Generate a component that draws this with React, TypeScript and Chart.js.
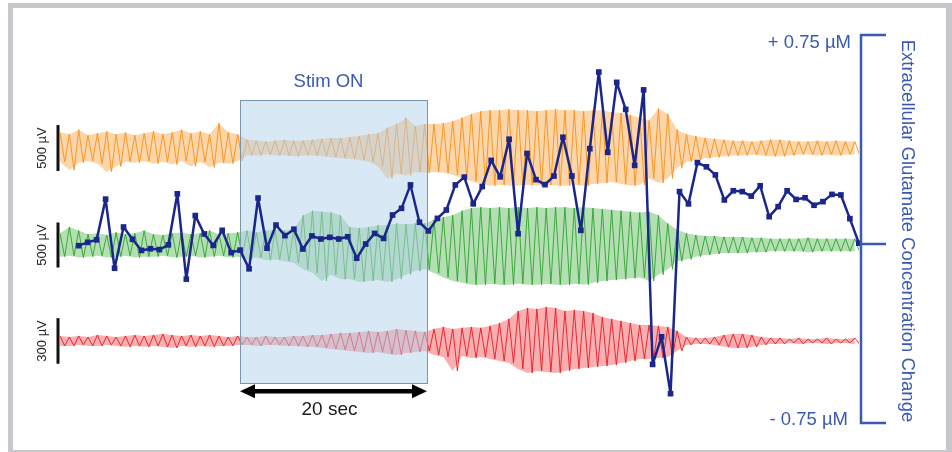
import React, { useEffect, useRef } from "react";
import { Chart, registerables } from "chart.js";

Chart.register(...registerables);

// ---- time base (seconds) ----
const CONC_DT = 0.959; // glutamate sampling interval
const TRACE_DT = 1.0; // envelope sampling interval for field traces
const TRACE_T0 = -2;
const X_MIN = -2;
const X_MAX = 83.45;
const STIM_START = 17.25;
const STIM_END = 37.25;
const STIM_TOP_UM = 0.517;
const STIM_BOTTOM_UM = -0.5;

// ---- glutamate concentration change (µM) ----
const concUM = [
  -0.006, 0.006, 0.015, 0.161, -0.087, 0.061, 0.017, -0.023, -0.017, -0.02,
  -0.003, 0.18, -0.126, 0.102, 0.036, -0.005, 0.049, -0.031, -0.022, -0.089,
  0.165, -0.015, 0.068, 0.03, 0.053, -0.018, 0.029, 0.018, 0.024, 0.018,
  0.026, -0.051, 0.0, 0.038, 0.02, 0.104, 0.128, 0.212, 0.078, 0.047,
  0.092, 0.122, 0.212, 0.24, 0.144, 0.206, 0.3, 0.241, 0.376, 0.037,
  0.325, 0.231, 0.213, 0.244, 0.383, 0.244, 0.049, 0.342, 0.617, 0.329,
  0.58, 0.483, 0.282, 0.553, -0.432, -0.333, -0.537, 0.188, 0.144, 0.292,
  0.277, 0.248, 0.158, 0.191, 0.188, 0.172, 0.209, 0.098, 0.134, 0.191,
  0.16, 0.166, 0.139, 0.152, 0.178, 0.176, 0.091, 0.003,
];

// ---- field potential envelopes (µV): peak above / trough depth below baseline ----
const orangePeakUV = [
  170, 150, 200, 140, 160, 180, 150, 170, 140, 160, 180, 150, 170, 200, 160, 180, 150, 270, 170, 150,
  90, 80, 70, 80, 90, 80, 80, 90, 100, 110,
  110, 120, 130, 150, 160,
  220, 260, 330, 240, 260,
  260, 270, 290, 330,
  370, 400, 410, 410, 420, 410, 410, 400, 410, 420, 410, 410, 400, 410, 410, 390, 380, 360, 330,
  300, 430, 370, 200, 150,
  130, 110, 100, 90, 80,
  80, 70, 80, 90, 90, 80, 70, 70, 80, 70, 80, 70, 70,
];
const orangeTroughUV = [
  150, 240, 160, 140, 170, 260, 200, 150, 160, 140, 170, 150, 180, 140, 200, 150, 210, 160, 170, 140,
  80, 80, 70, 80, 80, 90, 80, 80, 90, 100,
  110, 120, 130, 150, 200,
  330, 280, 300, 260, 270,
  260, 270, 290, 330,
  360, 390, 410, 400, 410, 410, 400, 410, 400, 410, 410, 400, 410, 390, 380, 370, 390, 410, 400,
  330, 380, 330, 220, 150,
  130, 110, 100, 90, 80,
  80, 70, 80, 90, 90, 80, 70, 70, 80, 70, 80, 70, 70,
];
const greenPeakUV = [
  130, 200, 160, 120, 130, 110, 140, 120, 130, 160, 120, 110, 130, 140, 120, 130, 160, 120, 130, 140,
  160, 140, 160, 170, 160, 180,
  330, 380, 370, 360, 330,
  200, 190, 200, 220, 220, 240, 230, 240,
  240, 280, 310, 330, 380,
  410, 420, 410, 420, 410, 420, 410, 420, 410, 420, 420, 410, 420, 410, 400, 390, 380, 370,
  360, 370, 330, 240, 170,
  130, 110, 100, 100, 90,
  90, 90, 80, 80, 70, 70, 70, 70, 80, 70, 70, 70, 70, 70,
];
const greenTroughUV = [
  130, 120, 140, 130, 120, 140, 130, 120, 140, 130, 130, 120, 140, 130, 120, 140, 130, 120, 140, 130,
  160, 140, 170, 160, 180, 200,
  270, 310, 400, 330, 380,
  380, 410, 400, 390, 410, 380, 330, 290,
  270, 310, 360, 400, 420,
  440, 440, 430, 440, 440, 430, 440, 440, 430, 440, 440, 430, 440, 420, 400, 390, 380, 370,
  360, 400, 330, 270, 180,
  160, 130, 110, 100, 90,
  90, 90, 80, 80, 70, 70, 70, 70, 80, 70, 70, 70, 70, 70,
];
const redPeakUV = [
  33, 26, 33, 26, 39, 33, 26, 33, 39, 33, 39, 46, 39, 33, 39, 33, 39, 33, 26, 33,
  26, 26, 33, 26, 26, 33, 33, 39, 39,
  46, 53, 53, 59, 66, 59, 66, 79, 72, 66, 59,
  79, 92, 79, 86, 92, 86, 99, 118, 145,
  197, 217, 211, 224, 217, 197, 204, 197, 184,
  158, 145, 132, 118, 105,
  105, 99, 92, 66,
  26, 20, 20,
  26, 39, 46, 46, 39, 26,
  20, 20, 13, 20, 13, 13, 20, 13, 13, 20,
];
const redTroughUV = [
  33, 33, 26, 33, 33, 26, 33, 39, 33, 39, 33, 39, 46, 33, 39, 33, 39, 33, 33, 26,
  26, 33, 26, 26, 33, 33, 39, 39, 46,
  53, 59, 66, 72, 79, 72, 86, 92, 79, 72, 66,
  92, 105, 197, 99, 112, 105, 118, 132, 145,
  184, 211, 197, 204, 211, 197, 184, 178, 171,
  165, 158, 145, 132, 118,
  118, 112, 105, 66,
  26, 20, 20,
  26, 39, 46, 46, 39, 26,
  20, 20, 13, 20, 13, 13, 20, 13, 13, 20,
];

// ---- labels ----
const stimLabel = "Stim ON";
const durationLabel = "20 sec";
const bracketTickLabels = ["+ 0.75 µM", "- 0.75 µM"];
const bracketTickValues = [0.75, -0.642];
const bracketTitle = "Extracellular Glutamate Concentration Change";
const scaleBarLabels = ["500 µV", "500 µV", "300 µV"];
const scaleBarSizesUV = [500, 500, 300];
const traceAxes = ["yO", "yG", "yR"];

const FONT = '"Liberation Sans", Arial, Helvetica, sans-serif';
const TEXT_BLUE = "#3a5ab2";

const toPts = (arr: number[], sign: number) =>
  arr.map((v, k) => ({ x: TRACE_T0 + k * TRACE_DT, y: sign * v }));

// peak and trough of each envelope sample, alternated to draw the oscillating trace
const zigzag = (peak: number[], trough: number[]) => {
  const pts: { x: number; y: number }[] = [];
  peak.forEach((p, k) => {
    const t = TRACE_T0 + k * TRACE_DT;
    pts.push({ x: t, y: p });
    pts.push({ x: t + TRACE_DT / 2, y: -trough[k] });
  });
  return pts;
};

function traceSets(peak: number[], trough: number[], axis: string, color: string, fill: string) {
  return [
    {
      data: zigzag(peak, trough),
      yAxisID: axis,
      borderColor: color,
      borderWidth: 1,
      fill: false,
      pointRadius: 0,
      tension: 0,
    },
    {
      data: toPts(peak, 1),
      yAxisID: axis,
      borderColor: "rgba(0,0,0,0)",
      borderWidth: 0,
      backgroundColor: fill,
      fill: "+1",
      pointRadius: 0,
      tension: 0,
    },
    {
      data: toPts(trough, -1),
      yAxisID: axis,
      borderColor: "rgba(0,0,0,0)",
      borderWidth: 0,
      fill: false,
      pointRadius: 0,
      tension: 0,
    },
  ];
}

const overlayPlugin = {
  id: "overlay",
  beforeDraw(chart: any) {
    const ctx = chart.ctx;
    ctx.save();
    ctx.fillStyle = "#ffffff";
    ctx.fillRect(0, 0, chart.width, chart.height);
    ctx.fillStyle = "#c8c8cc";
    ctx.fillRect(8, 3, 944, 449);
    ctx.fillStyle = "#ffffff";
    ctx.fillRect(13, 8, 933, 442);
    ctx.restore();
  },
  beforeDatasetDraw(chart: any, args: any) {
    if (args.index !== 0) return;
    const ctx = chart.ctx;
    const x = chart.scales.x;
    const y = chart.scales.yC;
    const l = x.getPixelForValue(STIM_START);
    const r = x.getPixelForValue(STIM_END);
    const t = y.getPixelForValue(STIM_TOP_UM);
    const b = y.getPixelForValue(STIM_BOTTOM_UM);
    ctx.save();
    ctx.fillStyle = "rgba(180,210,236,0.5)";
    ctx.fillRect(l, t, r - l, b - t);
    ctx.strokeStyle = "#7a95ab";
    ctx.lineWidth = 1;
    ctx.strokeRect(Math.round(l) + 0.5, Math.round(t) + 0.5, Math.round(r - l), Math.round(b - t));
    ctx.restore();
  },
  afterDraw(chart: any) {
    const ctx = chart.ctx;
    const x = chart.scales.x;
    const yC = chart.scales.yC;
    const area = chart.chartArea;
    const l = x.getPixelForValue(STIM_START);
    const r = x.getPixelForValue(STIM_END);
    const boxTop = yC.getPixelForValue(STIM_TOP_UM);
    const boxBottom = yC.getPixelForValue(STIM_BOTTOM_UM);
    ctx.save();

    // Stim ON label
    ctx.fillStyle = TEXT_BLUE;
    ctx.font = `18.5px ${FONT}`;
    ctx.textAlign = "center";
    ctx.textBaseline = "middle";
    ctx.fillText(stimLabel, (l + r) / 2 - 5, boxTop - 18);

    // double arrow
    const ay = boxBottom + 8;
    const head = 15;
    ctx.strokeStyle = "#000";
    ctx.fillStyle = "#000";
    ctx.lineWidth = 4.5;
    ctx.beginPath();
    ctx.moveTo(l + head - 2, ay);
    ctx.lineTo(r - head + 2, ay);
    ctx.stroke();
    ctx.beginPath();
    ctx.moveTo(l, ay);
    ctx.lineTo(l + head, ay - 7);
    ctx.lineTo(l + head, ay + 7);
    ctx.closePath();
    ctx.fill();
    ctx.beginPath();
    ctx.moveTo(r, ay);
    ctx.lineTo(r - head, ay - 7);
    ctx.lineTo(r - head, ay + 7);
    ctx.closePath();
    ctx.fill();
    ctx.fillStyle = "#1a1a1a";
    ctx.font = `19px ${FONT}`;
    ctx.fillText(durationLabel, (l + r) / 2 - 4, ay + 18);

    // right bracket
    const bx = area.right + 2;
    const bx2 = bx + 25;
    const bTop = yC.getPixelForValue(bracketTickValues[0]);
    const bBot = yC.getPixelForValue(bracketTickValues[1]);
    const bMid = yC.getPixelForValue(0);
    ctx.strokeStyle = TEXT_BLUE;
    ctx.lineWidth = 2.5;
    ctx.beginPath();
    ctx.moveTo(bx2, bTop);
    ctx.lineTo(bx, bTop);
    ctx.lineTo(bx, bBot);
    ctx.lineTo(bx2, bBot);
    ctx.moveTo(bx, bMid);
    ctx.lineTo(bx2, bMid);
    ctx.stroke();
    ctx.fillStyle = TEXT_BLUE;
    ctx.font = `18.5px ${FONT}`;
    ctx.textAlign = "right";
    ctx.fillText(bracketTickLabels[0], bx - 10, bTop + 8);
    ctx.fillText(bracketTickLabels[1], bx - 13, bBot - 3);

    // rotated title
    ctx.save();
    ctx.translate(bx + 46, (bTop + bBot) / 2 + 2);
    ctx.rotate(Math.PI / 2);
    ctx.textAlign = "center";
    ctx.font = `18.5px ${FONT}`;
    ctx.fillText(bracketTitle, 0, 0);
    ctx.restore();

    // scale bars
    traceAxes.forEach((id, i) => {
      const s = chart.scales[id];
      const half = scaleBarSizesUV[i] / 2;
      const t = s.getPixelForValue(half);
      const b = s.getPixelForValue(-half);
      ctx.strokeStyle = "#111";
      ctx.lineWidth = 3;
      ctx.beginPath();
      ctx.moveTo(area.left - 2, t);
      ctx.lineTo(area.left - 2, b);
      ctx.stroke();
      ctx.save();
      ctx.translate(area.left - 18, (t + b) / 2);
      ctx.rotate(-Math.PI / 2);
      ctx.fillStyle = "#222";
      ctx.font = `13px ${FONT}`;
      ctx.textAlign = "center";
      ctx.textBaseline = "middle";
      ctx.fillText(scaleBarLabels[i], 0, 0);
      ctx.restore();
    });

    ctx.restore();
  },
};

export default function App() {
  const ref = useRef<HTMLCanvasElement | null>(null);
  useEffect(() => {
    if (!ref.current) return;
    const concData = concUM.map((v, i) => ({ x: i * CONC_DT, y: v }));
    const chart = new Chart(ref.current, {
      type: "line",
      data: {
        datasets: [
          {
            data: concData,
            yAxisID: "yC",
            borderColor: "#1b268c",
            backgroundColor: "#1b268c",
            borderWidth: 2.5,
            borderJoinStyle: "round",
            pointStyle: "rect",
            pointRadius: 4,
            pointBorderWidth: 0,
            fill: false,
            tension: 0,
            clip: false as any,
          },
          ...traceSets(redPeakUV, redTroughUV, "yR", "rgba(232,28,34,0.9)", "rgba(238,55,60,0.4)"),
          ...traceSets(greenPeakUV, greenTroughUV, "yG", "rgba(40,160,40,0.85)", "rgba(55,170,55,0.38)"),
          ...traceSets(orangePeakUV, orangeTroughUV, "yO", "rgba(247,145,28,0.9)", "rgba(248,150,40,0.4)"),
        ] as any,
      },
      options: {
        responsive: false,
        animation: false,
        devicePixelRatio: 1,
        layout: { padding: { left: 60, right: 93, top: 30, bottom: 22 } },
        plugins: { legend: { display: false }, tooltip: { enabled: false } },
        events: [],
        scales: {
          x: { type: "linear", min: X_MIN, max: X_MAX, display: false },
          yC: { type: "linear", min: -0.6674, max: 0.7679, display: false },
          yO: { type: "linear", min: -3065, max: 1283, display: false },
          yG: { type: "linear", min: -2054, max: 2387, display: false },
          yR: { type: "linear", min: -586, max: 2046, display: false },
        },
      } as any,
      plugins: [overlayPlugin],
    });
    return () => chart.destroy();
  }, []);
  return (
    <div style={{ position: "fixed", left: 0, top: 0, width: 952, height: 452, background: "#fff" }}>
      <canvas ref={ref} width={952} height={452} style={{ width: 952, height: 452, display: "block" }} />
    </div>
  );
}
